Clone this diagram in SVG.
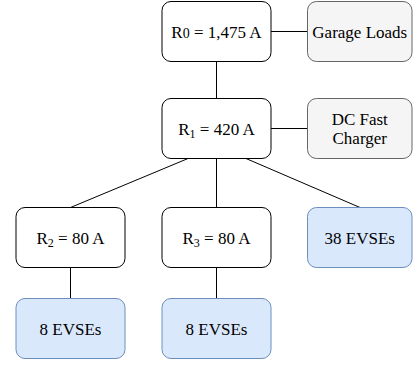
<svg xmlns="http://www.w3.org/2000/svg" width="413" height="366" viewBox="0 0 413 366">
<style>
text{font-family:"Liberation Serif","Times New Roman",serif;font-size:17px;fill:#000;text-anchor:middle}
.w{fill:#fff;stroke:#000;stroke-width:1}
.g{fill:#f5f5f5;stroke:#666;stroke-width:1}
.b{fill:#dae8fc;stroke:#6c8ebf;stroke-width:1}
.e{stroke:#000;stroke-width:1;fill:none}
.sub{font-size:12px}
</style>
<rect width="413" height="366" fill="#fff"/>
<g id="connectors">
<line class="e" x1="216.5" y1="61.5" x2="216.5" y2="98.5"/>
<line class="e" x1="271" y1="31.5" x2="307.5" y2="31.5"/>
<line class="e" x1="271" y1="128.5" x2="307.5" y2="128.5"/>
<line class="e" x1="188" y1="158.5" x2="70.5" y2="207.5"/>
<line class="e" x1="216.5" y1="158.5" x2="216.5" y2="207.5"/>
<line class="e" x1="246" y1="158.5" x2="360" y2="207.5"/>
<line class="e" x1="70.5" y1="267.5" x2="70.5" y2="298.5"/>
<line class="e" x1="216.5" y1="267.5" x2="216.5" y2="298.5"/>
</g>
<g id="r0">
<rect class="w" x="162" y="1.5" width="109" height="60" rx="9"/>
<text x="216.5" y="37.5">R<tspan font-size="14">0</tspan> = 1,475 A</text>
</g>
<g id="garage">
<rect class="g" x="307.5" y="1.5" width="104.5" height="60" rx="9"/>
<text x="359.75" y="37.5">Garage Loads</text>
</g>
<g id="r1">
<rect class="w" x="162" y="98.5" width="109" height="60" rx="9"/>
<text x="216.5" y="134.5">R<tspan class="sub" dy="3">1</tspan><tspan dy="-3"> = 420 A</tspan></text>
</g>
<g id="dcfast">
<rect class="g" x="307.5" y="98.5" width="104.5" height="60" rx="9"/>
<text x="359.75" y="124.5">DC Fast</text>
<text x="359.75" y="143.5">Charger</text>
</g>
<g id="r2">
<rect class="w" x="16" y="207.5" width="109" height="60" rx="9"/>
<text x="70.5" y="243.5">R<tspan class="sub" dy="3">2</tspan><tspan dy="-3"> = 80 A</tspan></text>
</g>
<g id="r3">
<rect class="w" x="162" y="207.5" width="109" height="60" rx="9"/>
<text x="216.5" y="243.5">R<tspan class="sub" dy="3">3</tspan><tspan dy="-3"> = 80 A</tspan></text>
</g>
<g id="evse38">
<rect class="b" x="307.5" y="207.5" width="104.5" height="60" rx="9"/>
<text x="359.75" y="243.5">38 EVSEs</text>
</g>
<g id="evse8a">
<rect class="b" x="16" y="298.5" width="109" height="60" rx="9"/>
<text x="70.5" y="334.5">8 EVSEs</text>
</g>
<g id="evse8b">
<rect class="b" x="162" y="298.5" width="109" height="60" rx="9"/>
<text x="216.5" y="334.5">8 EVSEs</text>
</g>
</svg>
